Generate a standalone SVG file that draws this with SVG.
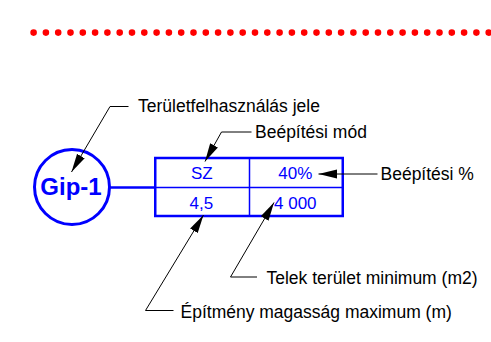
<svg xmlns="http://www.w3.org/2000/svg" width="491" height="342" viewBox="0 0 491 342">
<style>
.lbl{font-family:"Liberation Sans",Arial,sans-serif;font-size:17.5px;fill:#000}
.val{font-family:"Liberation Sans",Arial,sans-serif;font-size:17px;fill:#0000ff;text-anchor:middle}
.lead{fill:none;stroke:#000;stroke-width:1;marker-end:url(#ah)}
.blue{fill:none;stroke:#0000ff}
</style>
<defs>
<marker id="ah" markerUnits="userSpaceOnUse" markerWidth="19" markerHeight="10" viewBox="0 0 19 10" refX="18.5" refY="5" orient="auto">
<path d="M0,0.6 L18.5,5 L0,9.4 Z" fill="#000"/>
</marker>
</defs>
<rect width="491" height="342" fill="#fff"/>
<g id="border-dots">
<line x1="33.6" y1="32.6" x2="491" y2="32.6" stroke="#ff0000" stroke-width="6.6" stroke-linecap="round" stroke-dasharray="0 12.3"/>
</g>
<g id="gip1">
<circle cx="72" cy="187" r="37.5" class="blue" stroke-width="3"/>
<text x="71" y="195" font-family="'Liberation Sans',Arial,sans-serif" font-size="24" font-weight="bold" fill="#0000ff" text-anchor="middle">Gip-1</text>
</g>
<g id="table">
<rect x="155.25" y="158" width="187.5" height="58" class="blue" stroke-width="2.5"/>
<line x1="155" y1="187.5" x2="343" y2="187.5" class="blue" stroke-width="1.5"/>
<line x1="249.5" y1="158" x2="249.5" y2="216" class="blue" stroke-width="1.5"/>
<text class="val" x="201.8" y="178.5">SZ</text>
<text class="val" x="295.3" y="179">40%</text>
<text class="val" x="201.3" y="208.5">4,5</text>
<text class="val" x="295.3" y="208.5">4 000</text>
</g>
<g id="label-jele"><text class="lbl" x="138" y="112">Területfelhasználás jele</text></g>
<g id="label-mod"><text class="lbl" x="255" y="137.5">Beépítési mód</text></g>
<g id="label-szazalek"><text class="lbl" x="380.5" y="180">Beépítési %</text></g>
<g id="label-telek"><text class="lbl" x="266.5" y="283.5">Telek terület minimum (m2)</text></g>
<g id="label-magassag"><text class="lbl" x="180.5" y="317.5">Építmény magasság maximum (m)</text></g>
<g id="connectors">
<line x1="109.5" y1="187.5" x2="155" y2="187.5" class="blue" stroke-width="2.7"/>
<polyline class="lead" points="128.5,106.5 110,106.5 71.5,172"/>
<polyline class="lead" points="251.5,132 221.5,132 205,161.5"/>
<polyline class="lead" points="377.5,174 318.5,174"/>
<polyline class="lead" points="257,277 230.5,277 274,202.5"/>
<polyline class="lead" points="173.5,310.5 145.5,310.5 203.5,215"/>
</g>
</svg>
